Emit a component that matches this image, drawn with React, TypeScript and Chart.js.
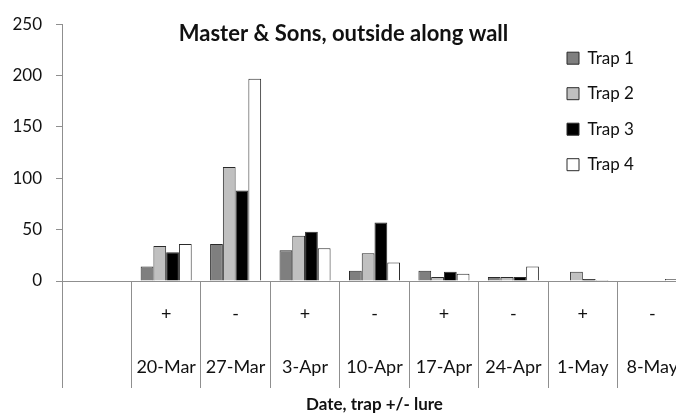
import React, { useEffect, useRef } from "react";
import { Chart, registerables } from "chart.js";

Chart.register(...registerables);

// ---- data ----
const dateLabels = ["", "20-Mar", "27-Mar", "3-Apr", "10-Apr", "17-Apr", "24-Apr", "1-May", "8-May"];
const lureLabels = ["", "+", "-", "+", "-", "+", "-", "+", "-"];
const trap1 = [null, 14, 36, 30, 10, 10, 4, 0, 0];
const trap2 = [null, 34, 111, 44, 27, 4, 4, 9, 0];
const trap3 = [null, 28, 88, 48, 57, 9, 4, 2, 0];
const trap4 = [null, 36, 197, 32, 18, 7, 14, 1, 2];
const seriesNames = ["Trap 1", "Trap 2", "Trap 3", "Trap 4"];
const yMin = 0;
const yMax = 250;
const yStep = 50;
const chartTitle = "Master & Sons, outside along wall";
const xAxisTitle = "Date, trap +/- lure";

const FONT = "Lato, 'Open Sans', 'DejaVu Sans', sans-serif";
const TEXT = "#111111";
const AXIS = "#8f8f8f";

export default function App() {
  const canvasRef = useRef<HTMLCanvasElement>(null);

  useEffect(() => {
    const canvas = canvasRef.current;
    if (!canvas) return;

    const legendPlacer = {
      id: "legendPlacer",
      afterLayout(chart: any) {
        const lg = chart.legend;
        if (!lg) return;
        const ca = chart.chartArea;
        lg.left = ca.left + 486.5;
        lg.top = ca.top + 7;
        lg.right = chart.width;
        lg.bottom = chart.height;
      },
    };

    const fills = ["#7f7f7f", "#c0c0c0", "#000000", "#ffffff"];
    const series = [trap1, trap2, trap3, trap4];

    const chart = new Chart(canvas, {
      type: "bar",
      data: {
        labels: dateLabels.map((d, i) => [lureLabels[i], d]),
        datasets: series.map((data, i) => ({
          label: seriesNames[i],
          data: data as any,
          backgroundColor: fills[i],
          borderColor: "#2a2a2a",
          borderWidth: 1,
          categoryPercentage: 0.735,
          barPercentage: 1.0,
        })),
      },
      plugins: [legendPlacer],
      options: {
        responsive: false,
        animation: false,
        devicePixelRatio: 1,
        layout: { padding: { top: 20, left: 0, right: 13, bottom: 0 } },
        plugins: {
          tooltip: { enabled: false },
          title: {
            display: true,
            text: chartTitle,
            color: TEXT,
            font: { family: FONT, size: 22, weight: "bold", lineHeight: 1.2 },
            padding: { top: -3.2, bottom: -23.2 },
          },
          legend: {
            position: "chartArea" as any,
            align: "start",
            labels: {
              color: TEXT,
              font: { family: FONT, size: 17 },
              boxWidth: 12,
              boxHeight: 12,
              padding: 18.5,
            },
          },
        },
        scales: {
          x: {
            type: "category",
            offset: true,
            grid: {
              display: true,
              offset: true,
              drawOnChartArea: false,
              drawTicks: true,
              tickLength: 107,
              color: AXIS,
              lineWidth: 1,
            },
            border: { display: true, color: AXIS, width: 1 },
            ticks: {
              autoSkip: false,
              maxRotation: 0,
              minRotation: 0,
              color: TEXT,
              font: { family: FONT, size: 18, lineHeight: "53px" as any },
              padding: -100.5,
            },
            title: {
              display: true,
              text: xAxisTitle,
              color: TEXT,
              font: { family: FONT, size: 17, weight: "bold", lineHeight: 1.2 },
              padding: { top: 0, bottom: 1 },
            },
            afterFit(scale: any) {
              scale.height = 135;
            },
          },
          y: {
            min: yMin,
            max: yMax,
            ticks: {
              stepSize: yStep,
              color: TEXT,
              padding: 14,
              font: { family: FONT, size: 17 },
            },
            grid: {
              display: true,
              drawOnChartArea: false,
              drawTicks: true,
              tickLength: 6,
              color: AXIS,
            },
            border: { display: true, color: AXIS, width: 1 },
            afterFit(scale: any) {
              scale.width = 62;
            },
          },
        },
      },
    });

    return () => chart.destroy();
  }, []);

  return (
    <div
      style={{
        position: "fixed",
        left: 0,
        top: 0,
        width: 676,
        height: 416,
        overflow: "hidden",
        background: "#ffffff",
      }}
    >
      <canvas ref={canvasRef} width={700} height={416} style={{ display: "block" }} />
    </div>
  );
}
